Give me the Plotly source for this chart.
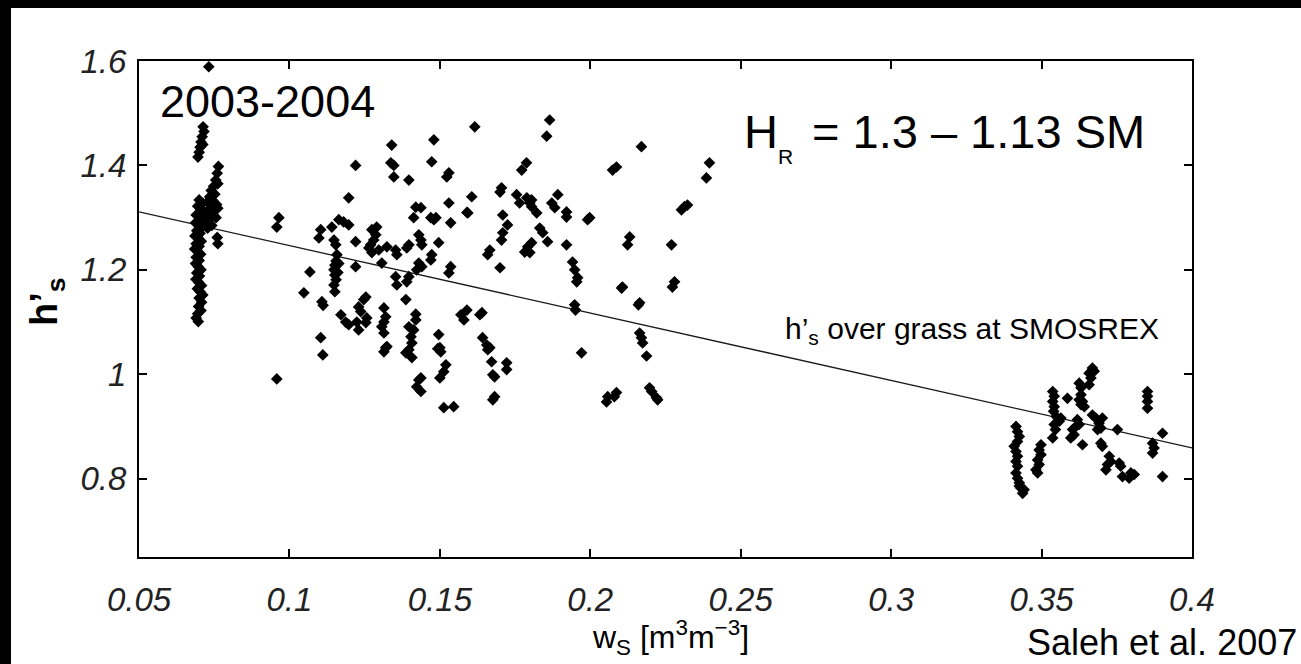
import plotly.graph_objects as go

# values (w_s in m3/m3, h'_s)
left_band = [
    (0.0732, 1.589), (0.0713, 1.474), (0.0716, 1.465), (0.0710, 1.455), (0.0706, 1.445),
    (0.0703, 1.435), (0.0700, 1.425), (0.0696, 1.416), (0.0712, 1.440),
    (0.0700, 1.334), (0.0712, 1.328), (0.0695, 1.322), (0.0705, 1.316), (0.0718, 1.310),
    (0.0690, 1.305), (0.0702, 1.300), (0.0712, 1.295), (0.0688, 1.290), (0.0698, 1.285),
    (0.0708, 1.280), (0.0692, 1.275), (0.0703, 1.270), (0.0686, 1.265), (0.0697, 1.260),
    (0.0707, 1.255), (0.0690, 1.250), (0.0700, 1.245), (0.0685, 1.240), (0.0695, 1.235),
    (0.0705, 1.230), (0.0690, 1.224), (0.0700, 1.218), (0.0688, 1.212), (0.0697, 1.206),
    (0.0706, 1.200), (0.0692, 1.194), (0.0701, 1.188), (0.0689, 1.182), (0.0698, 1.176),
    (0.0708, 1.170), (0.0694, 1.164), (0.0703, 1.158), (0.0712, 1.152), (0.0700, 1.146),
    (0.0708, 1.138), (0.0698, 1.130), (0.0706, 1.122), (0.0695, 1.116), (0.0690, 1.108),
    (0.0697, 1.101),
    (0.0764, 1.398), (0.0760, 1.385), (0.0755, 1.372), (0.0762, 1.365), (0.0748, 1.360),
    (0.0740, 1.352), (0.0752, 1.345), (0.0735, 1.340), (0.0745, 1.333), (0.0728, 1.330),
    (0.0758, 1.325), (0.0738, 1.318), (0.0725, 1.312), (0.0748, 1.305), (0.0733, 1.298),
    (0.0720, 1.292), (0.0742, 1.285), (0.0728, 1.280), (0.0756, 1.300), (0.0762, 1.318),
    (0.0760, 1.262), (0.0762, 1.250),
]

mid_band = [
    (0.0965, 1.300), (0.0958, 1.282), (0.1068, 1.196), (0.1048, 1.156), (0.1108, 1.139),
    (0.1112, 1.132), (0.1104, 1.070), (0.1111, 1.037), (0.0958, 0.991),
    (0.1104, 1.277), (0.1098, 1.261), (0.1141, 1.282), (0.1164, 1.296), (0.1180, 1.292),
    (0.1197, 1.286), (0.1148, 1.257), (0.1154, 1.248),
    (0.1158, 1.229), (0.1155, 1.217), (0.1151, 1.209), (0.1148, 1.200), (0.1151, 1.190),
    (0.1155, 1.181), (0.1148, 1.171), (0.1151, 1.158), (0.1161, 1.195), (0.1164, 1.212),
    (0.1220, 1.254), (0.1220, 1.206), (0.1197, 1.338), (0.1220, 1.400),
    (0.1274, 1.277), (0.1287, 1.267), (0.1280, 1.257), (0.1270, 1.248), (0.1290, 1.282),
    (0.1264, 1.242), (0.1274, 1.233), (0.1297, 1.238), (0.1324, 1.244), (0.1307, 1.213),
    (0.1353, 1.238), (0.1357, 1.229), (0.1353, 1.187), (0.1357, 1.171), (0.1390, 1.177),
    (0.1397, 1.187), (0.1387, 1.143),
    (0.1390, 1.242), (0.1397, 1.248), (0.1420, 1.320), (0.1437, 1.319), (0.1413, 1.300),
    (0.1430, 1.267), (0.1437, 1.257), (0.1440, 1.248), (0.1430, 1.213), (0.1440, 1.206),
    (0.1423, 1.200),
    (0.1470, 1.300), (0.1480, 1.296), (0.1487, 1.300), (0.1536, 1.290), (0.1530, 1.328),
    (0.1473, 1.229), (0.1470, 1.219), (0.1496, 1.252), (0.1536, 1.206), (0.1530, 1.194),
    (0.1523, 1.378), (0.1530, 1.386), (0.1473, 1.407), (0.1480, 1.449), (0.1397, 1.372),
    (0.1340, 1.439), (0.1337, 1.405), (0.1347, 1.400), (0.1347, 1.378), (0.1590, 1.310),
    (0.1171, 1.114), (0.1187, 1.100), (0.1197, 1.095), (0.1224, 1.100), (0.1230, 1.085),
    (0.1230, 1.129), (0.1237, 1.120), (0.1254, 1.148), (0.1247, 1.143), (0.1257, 1.108),
    (0.1254, 1.099),
    (0.1314, 1.127), (0.1320, 1.110), (0.1314, 1.100), (0.1307, 1.091), (0.1314, 1.079),
    (0.1324, 1.053), (0.1314, 1.043), (0.1320, 1.051),
    (0.1420, 1.104), (0.1397, 1.091), (0.1404, 1.072), (0.1407, 1.060), (0.1387, 1.041),
    (0.1407, 1.032), (0.1397, 1.047), (0.1413, 1.085), (0.1420, 1.115),
    (0.1430, 0.989), (0.1423, 0.976), (0.1437, 0.967), (0.1437, 0.993),
    (0.1496, 1.076), (0.1500, 1.051), (0.1503, 1.043), (0.1520, 1.018), (0.1513, 1.005),
    (0.1500, 0.993), (0.1493, 1.049), (0.1513, 0.936), (0.1546, 0.938),
    (0.1570, 1.114), (0.1580, 1.104), (0.1590, 1.123),
    (0.1616, 1.474), (0.1865, 1.487), (0.1855, 1.456), (0.1788, 1.405), (0.1772, 1.391),
    (0.2170, 1.436), (0.2087, 1.397), (0.2074, 1.391), (0.2396, 1.405), (0.2386, 1.376),
    (0.1606, 1.340), (0.1593, 1.309), (0.1705, 1.357), (0.1700, 1.349),
    (0.1709, 1.305), (0.1725, 1.286), (0.1709, 1.271), (0.1705, 1.257), (0.1666, 1.238),
    (0.1659, 1.229),
    (0.1755, 1.344), (0.1765, 1.328), (0.1789, 1.338), (0.1805, 1.334), (0.1805, 1.321),
    (0.1799, 1.328), (0.1822, 1.309), (0.1832, 1.280), (0.1842, 1.271), (0.1858, 1.254),
    (0.1782, 1.234), (0.1792, 1.244), (0.1805, 1.252), (0.1799, 1.233), (0.1700, 1.204),
    (0.1872, 1.328), (0.1882, 1.319), (0.1892, 1.344), (0.1921, 1.311), (0.1921, 1.301),
    (0.1921, 1.248), (0.1941, 1.215), (0.1948, 1.200), (0.1958, 1.185), (0.1955, 1.177),
    (0.1998, 1.300), (0.1991, 1.296),
    (0.2131, 1.263), (0.2124, 1.248), (0.2270, 1.248), (0.2280, 1.177), (0.2273, 1.167),
    (0.2107, 1.167), (0.2104, 1.165), (0.2313, 1.321), (0.2323, 1.324), (0.2303, 1.315),
    (0.2164, 1.137),
    (0.1633, 1.114), (0.1640, 1.118), (0.1642, 1.070), (0.1656, 1.056), (0.1659, 1.047),
    (0.1666, 1.051), (0.1672, 1.024), (0.1682, 0.995), (0.1676, 0.999), (0.1682, 0.957),
    (0.1676, 0.951), (0.1722, 1.022), (0.1722, 1.009),
    (0.1948, 1.133), (0.1951, 1.123), (0.1971, 1.041),
    (0.2058, 0.957), (0.2054, 0.947), (0.2087, 0.965), (0.2080, 0.957),
    (0.2160, 1.133), (0.2164, 1.079), (0.2170, 1.070), (0.2174, 1.060), (0.2187, 1.035),
    (0.2197, 0.974), (0.2204, 0.967), (0.2220, 0.955), (0.2224, 0.951),
]

right_band = [
    (0.3415, 0.900), (0.3420, 0.890), (0.3426, 0.881), (0.3420, 0.871), (0.3409, 0.862),
    (0.3415, 0.852), (0.3420, 0.843), (0.3415, 0.833), (0.3420, 0.824), (0.3415, 0.811),
    (0.3420, 0.801), (0.3426, 0.792), (0.3431, 0.782), (0.3437, 0.772), (0.3442, 0.779),
    (0.3426, 0.786),
    (0.3498, 0.865), (0.3492, 0.855), (0.3498, 0.846), (0.3487, 0.836), (0.3492, 0.827),
    (0.3481, 0.817), (0.3487, 0.811),
    (0.3537, 0.967), (0.3542, 0.958), (0.3537, 0.948), (0.3542, 0.938), (0.3540, 0.929),
    (0.3549, 0.919), (0.3564, 0.916), (0.3559, 0.910), (0.3542, 0.904), (0.3546, 0.894),
    (0.3537, 0.878), (0.3586, 0.954),
    (0.3603, 0.894), (0.3608, 0.884), (0.3597, 0.878), (0.3614, 0.900), (0.3625, 0.904),
    (0.3619, 0.913),
    (0.3625, 0.983), (0.3631, 0.974), (0.3631, 0.961), (0.3625, 0.951), (0.3631, 0.942),
    (0.3642, 0.938), (0.3636, 0.948),
    (0.3658, 1.002), (0.3669, 1.012), (0.3675, 1.006), (0.3664, 0.993), (0.3658, 0.980),
    (0.3636, 0.865),
    (0.3669, 0.922), (0.3680, 0.916), (0.3691, 0.906), (0.3686, 0.894), (0.3697, 0.897),
    (0.3702, 0.916), (0.3697, 0.868), (0.3702, 0.862),
    (0.3725, 0.843), (0.3719, 0.827), (0.3714, 0.817), (0.3730, 0.833), (0.3758, 0.830),
    (0.3763, 0.824), (0.3752, 0.894),
    (0.3769, 0.804), (0.3791, 0.801), (0.3797, 0.811), (0.3808, 0.808),
    (0.3852, 0.967), (0.3852, 0.958), (0.3852, 0.948), (0.3852, 0.935),
    (0.3869, 0.868), (0.3874, 0.859), (0.3869, 0.849), (0.3902, 0.887), (0.3902, 0.804),
]

# h'_s over grass at SMOSREX (straight line)
fit_ws = [0.05, 0.40]
fit_hs = [1.311, 0.859]

x_ticks = [0.05, 0.1, 0.15, 0.2, 0.25, 0.3, 0.35, 0.4]
x_labels = ["0.05", "0.1", "0.15", "0.2", "0.25", "0.3", "0.35", "0.4"]
y_ticks = [0.8, 1.0, 1.2, 1.4, 1.6]
y_labels = ["0.8", "1", "1.2", "1.4", "1.6"]

points = left_band + mid_band + right_band
ws = [p[0] for p in points]
hs = [p[1] for p in points]

W, H = 1301, 664
L, R, T, B = 139, 1192, 61, 557
FONT = "Liberation Sans, Arial, Helvetica, sans-serif"


def px(X):
    return (X - L) / (R - L)


def py(Y):
    return (B - Y) / (B - T)


fig = go.Figure()
fig.add_trace(go.Scatter(x=fit_ws, y=fit_hs, mode="lines",
                         line=dict(color="#1a1a1a", width=1.3), hoverinfo="skip"))
fig.add_trace(go.Scatter(x=ws, y=hs, mode="markers",
                         marker=dict(symbol="diamond", size=9, color="black")))

axis_common = dict(showline=True, linecolor="black", linewidth=2, mirror="ticks",
                   ticks="inside", ticklen=8, tickwidth=2, tickcolor="black",
                   showgrid=False, zeroline=False,
                   tickfont=dict(family=FONT, size=33, color="#222", style="italic"))

fig.update_xaxes(range=[0.05, 0.4], tickvals=x_ticks, ticktext=x_labels,
                 ticklabelstandoff=12, **axis_common)
fig.update_yaxes(range=[0.65, 1.6], tickvals=y_ticks, ticktext=y_labels,
                 ticklabelstandoff=4, **axis_common)

notes = [
    dict(text="2003-2004", X=158, Y=101, size=45, anchor="left"),
    dict(text="H", X=742, Y=131, size=47, anchor="left"),
    dict(text="R", X=776, Y=156, size=21, anchor="left"),
    dict(text="= 1.3 – 1.13 SM", X=810, Y=131, size=47, anchor="left"),
    dict(text="h’<sub>s</sub> over grass at SMOSREX", X=783, Y=330, size=30, anchor="left"),
    dict(text="w<sub>S</sub> [m<sup>3</sup>m<sup>−3</sup>]", X=670, Y=637, size=32, anchor="center"),
    dict(text="Saleh et al. 2007", X=1025, Y=642, size=36, anchor="left"),
]
for n in notes:
    fig.add_annotation(text=n["text"], x=px(n["X"]), y=py(n["Y"]), xref="paper", yref="paper",
                       xanchor=n["anchor"], yanchor="middle", showarrow=False,
                       font=dict(family=FONT, size=n["size"], color="black"))

fig.add_annotation(text="<b>h’<sub>s</sub></b>", x=px(47), y=py(302), xref="paper", yref="paper",
                   textangle=-90, showarrow=False, xanchor="center", yanchor="middle",
                   font=dict(family=FONT, size=38, color="black"))

# black frame strips on top and left edge of the picture
fig.add_shape(type="rect", xref="paper", yref="paper", x0=px(0), x1=px(W), y0=py(8), y1=py(0),
              fillcolor="black", line=dict(width=0), layer="above")
fig.add_shape(type="rect", xref="paper", yref="paper", x0=px(0), x1=px(11), y0=py(H), y1=py(0),
              fillcolor="black", line=dict(width=0), layer="above")

fig.update_layout(width=W, height=H, showlegend=False,
                  margin=dict(l=L, r=W - R, t=T, b=H - B, pad=0),
                  paper_bgcolor="white", plot_bgcolor="white")

# the page's default body margin would shift the figure by 8px
fig.write_html("out.html", config={"displayModeBar": False},
               post_script="document.body.style.margin='0';")
